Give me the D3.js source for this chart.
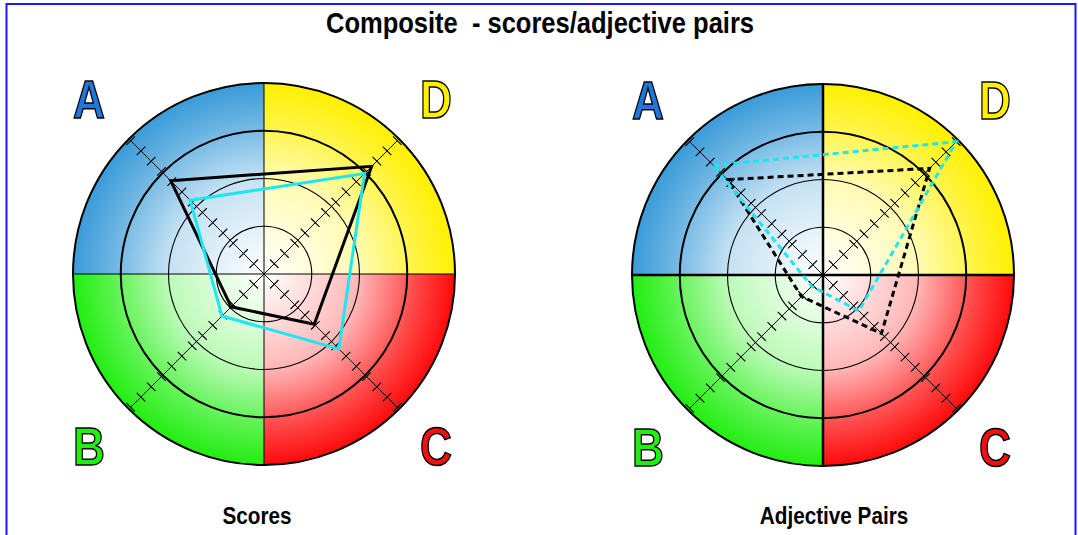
<!DOCTYPE html>
<html><head><meta charset="utf-8">
<script src="https://cdn.jsdelivr.net/npm/d3@7"></script>
<style>
html,body{margin:0;padding:0;background:#fff;}
text{font-family:"Liberation Sans Narrow","Arial Narrow","Liberation Sans",Arial,sans-serif;font-weight:bold;white-space:pre;}
</style></head>
<body>
<svg id="c" width="1078" height="535"></svg>
<script>
// ---- data ----
const chartTitle = "Composite  - scores/adjective pairs";
const panelTitles = ["Scores", "Adjective Pairs"];
const axisLabels = ["A", "D", "C", "B"];           // order of polygon vertices
const quadrantLabels = ["A", "D", "C", "B"];
const axisMax = 13;                                   // tick count along each axis
// Scores panel
const scoresBlack = [9.1, 10.5, 4.9, 3.2];
const scoresCyan  = [7.2, 9.8, 7.3, 4.1];
// Adjective pairs panel
const pairsBlack = [9.3, 10.4, 5.7, 2.1];
const pairsCyan  = [10.7, 13.0, 3.5, 1.1];

const panels = [
  {cx: 264, cy: 274, title: panelTitles[0], dashed: false, crossW: 1, series: [scoresBlack, scoresCyan]},
  {cx: 823, cy: 275, title: panelTitles[1], dashed: true,  crossW: 2.5, series: [pairsBlack, pairsCyan]}
];
const seriesColors = ["#000000", "#1ee6f0"];
const quadColors = {A: "#3a9bd8", D: "#fff000", C: "#ff0a0a", B: "#22ee11"};
const labelColors = {A: "#1f78d8", D: "#fff000", C: "#ee1111", B: "#22ee11"};

const R = 191, axisLen = 188.5;
const svg = d3.select("#c");
const defs = svg.append("defs");

// border
svg.append("rect").attr("x", 6.5).attr("y", 4).attr("width", 1069).attr("height", 600)
  .attr("fill", "none").attr("stroke", "#1a1aff").attr("stroke-width", 2);

svg.append("text").attr("transform", "translate(540,33) scale(0.88,1)").attr("text-anchor", "middle")
  .attr("font-size", 29).text(chartTitle);

const quadAngles = {A: [-Math.PI/2, 0], D: [0, Math.PI/2], C: [Math.PI/2, Math.PI], B: [Math.PI, 1.5*Math.PI]};
const axisAngles = [-Math.PI/4, Math.PI/4, 3*Math.PI/4, 5*Math.PI/4];
const r = d3.scaleLinear().domain([0, axisMax]).range([0, axisLen]);

panels.forEach((p, pi) => {
  const g = svg.append("g").attr("transform", `translate(${p.cx},${p.cy})`);
  // gradients + quadrants
  quadrantLabels.forEach(q => {
    const id = `grad${pi}${q}`;
    const gr = defs.append("radialGradient").attr("id", id).attr("gradientUnits", "userSpaceOnUse")
      .attr("cx", 0).attr("cy", 0).attr("r", R).attr("fx", 0).attr("fy", 0);
    const mix = t => d3.interpolateRgb("#ffffff", quadColors[q])(t);
    gr.append("stop").attr("offset", "0%").attr("stop-color", "#ffffff");
    gr.append("stop").attr("offset", "50%").attr("stop-color", mix(0.3));
    gr.append("stop").attr("offset", "80%").attr("stop-color", mix(0.75));
    gr.append("stop").attr("offset", "100%").attr("stop-color", mix(1));
    const arc = d3.arc().innerRadius(0).outerRadius(R).startAngle(quadAngles[q][0]).endAngle(quadAngles[q][1]);
    g.append("path").attr("d", arc()).attr("fill", `url(#${id})`);
  });
  // rings
  [1, 2, 3, 4].forEach(k => {
    g.append("circle").attr("r", R * k / 4).attr("fill", "none").attr("stroke", "#000")
      .attr("stroke-width", k >= 3 ? 2 : 1.1);
  });
  // cross lines
  g.append("line").attr("x1", -R).attr("x2", R).attr("y1", 0).attr("y2", 0).attr("stroke", "#000").attr("stroke-width", p.crossW);
  g.append("line").attr("y1", -R).attr("y2", R).attr("x1", 0).attr("x2", 0).attr("stroke", "#000").attr("stroke-width", p.crossW);
  // diagonal axes with ticks
  axisAngles.forEach(a => {
    const dx = Math.sin(a), dy = -Math.cos(a);
    g.append("line").attr("x1", 0).attr("y1", 0).attr("x2", dx * axisLen).attr("y2", dy * axisLen)
      .attr("stroke", "#000").attr("stroke-width", 1);
    const ticks = d3.range(1, axisMax + 1);
    g.selectAll(null).data(ticks).enter().append("line")
      .attr("x1", d => dx * r(d) - dy * 6).attr("y1", d => dy * r(d) + dx * 6)
      .attr("x2", d => dx * r(d) + dy * 6).attr("y2", d => dy * r(d) - dx * 6)
      .attr("stroke", "#000").attr("stroke-width", 1.1);
  });
  // series
  const line = d3.lineRadial().angle((d, i) => axisAngles[i]).radius(d => r(d)).curve(d3.curveLinearClosed);
  p.series.forEach((s, si) => {
    g.append("path").attr("d", line(s)).attr("fill", "none").attr("stroke", seriesColors[si])
      .attr("stroke-width", 3).attr("stroke-linejoin", "miter")
      .attr("stroke-dasharray", p.dashed ? "6,4" : null);
  });
  // quadrant letters
  const lp = {A: [-175, -156], D: [172, -156], B: [-175, 191], C: [172, 191]};
  quadrantLabels.forEach(q => {
    svg.append("text").attr("transform", `translate(${p.cx + lp[q][0]},${p.cy + lp[q][1]}) scale(0.82,1)`)
      .attr("text-anchor", "middle")
      .attr("font-size", 54).attr("fill", labelColors[q]).attr("stroke", "#000").attr("stroke-width", 1.5)
      .text(q);
  });
  svg.append("text").attr("transform", `translate(${p.cx - 7 + pi * 18},524) scale(0.9,1)`).attr("text-anchor", "middle")
    .attr("font-size", 23).text(p.title);
});
</script>
</body></html>
